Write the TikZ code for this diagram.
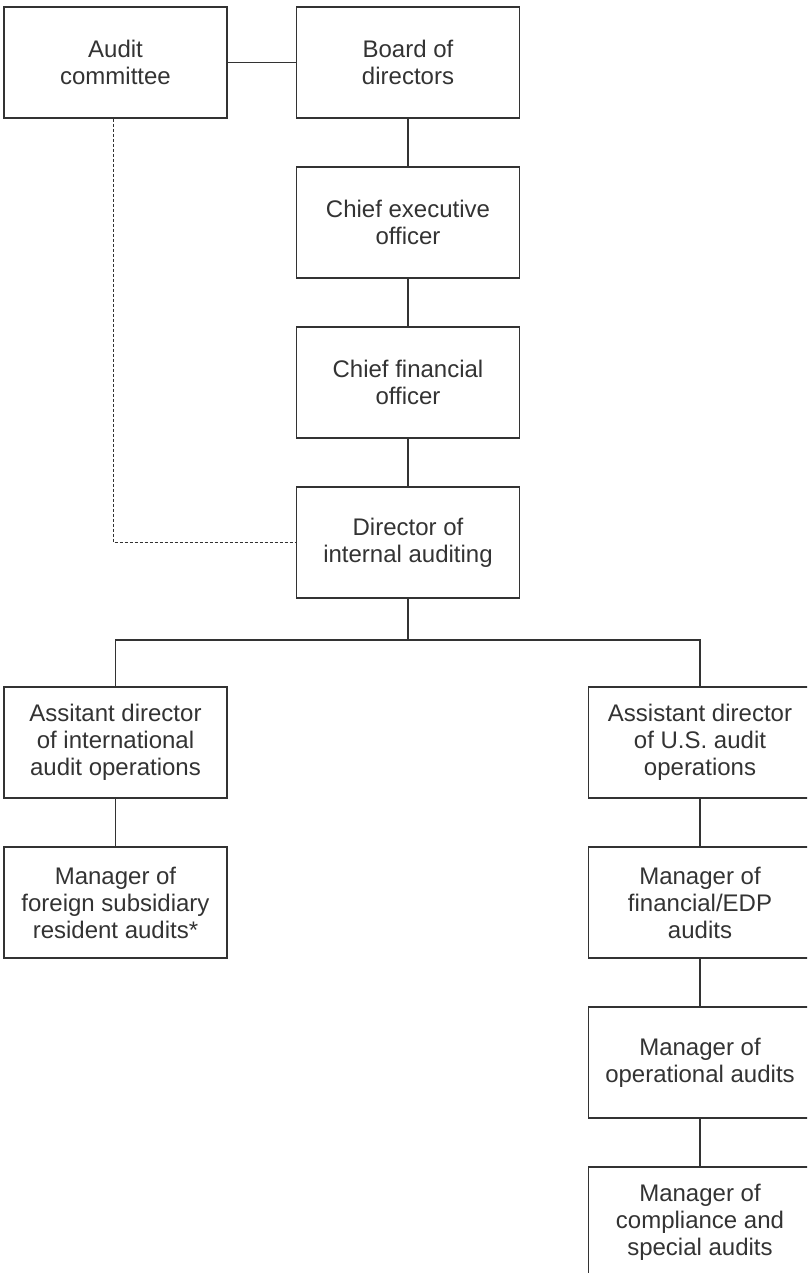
\documentclass[tikz,border=0pt]{standalone}
\usepackage{fontspec}
\setmainfont{Liberation Sans}
\definecolor{ink}{HTML}{333333}
\tikzset{
  orgbox/.style={draw=ink, line width=1.3pt, minimum width=223pt, minimum height=111pt,
    inner sep=0pt, align=center, text=ink, font=\fontsize{24}{27}\selectfont},
  link/.style={draw=ink, line width=1.3pt},
  dotlink/.style={draw=ink, line width=1.1pt, dash pattern=on 3pt off 2pt}
}
\begin{document}
\begin{tikzpicture}[x=1pt,y=-1pt]
\useasboundingbox (0,0) rectangle (807,1273);
\clip (0,0) rectangle (807,1273);
\node[orgbox] (audit) at (115.5,62.5) {Audit\\committee};
\node[orgbox] (board) at (408,62.5) {Board of\\directors};
\node[orgbox] (ceo) at (408,222.5) {Chief executive\\officer};
\node[orgbox] (cfo) at (408,382.5) {Chief financial\\officer};
\node[orgbox] (dir) at (408,542.5) {Director of\\internal auditing};
\node[orgbox] (asstI) at (115.5,742.5) {Assitant director\\of international\\audit operations};
\node[orgbox] (mgrF) at (115.5,902.5) {Manager of\\foreign subsidiary\\resident audits*};
\node[orgbox] (asstU) at (700,742.5) {Assistant director\\of U.S. audit\\operations};
\node[orgbox] (mgrFin) at (700,902.5) {Manager of\\financial/EDP\\audits};
\node[orgbox] (mgrOp) at (700,1062.5) {Manager of\\operational audits};
\node[orgbox] (mgrComp) at (700,1222.5) {Manager of\\compliance and\\special audits};
\coordinate (br) at (408,640);
\draw[link] (audit.east) -- (board.west);
\draw[link] (board.south) -- (ceo.north);
\draw[link] (ceo.south) -- (cfo.north);
\draw[link] (cfo.south) -- (dir.north);
\draw[link] (dir.south) -- (br);
\draw[link] (asstI.north) |- (br) -| (asstU.north);
\draw[link] (asstI.south) -- (mgrF.north);
\draw[link] (asstU.south) -- (mgrFin.north);
\draw[link] (mgrFin.south) -- (mgrOp.north);
\draw[link] (mgrOp.south) -- (mgrComp.north);
\draw[dotlink] ([xshift=-2pt]audit.south) |- (dir.west);
\end{tikzpicture}
\end{document}
